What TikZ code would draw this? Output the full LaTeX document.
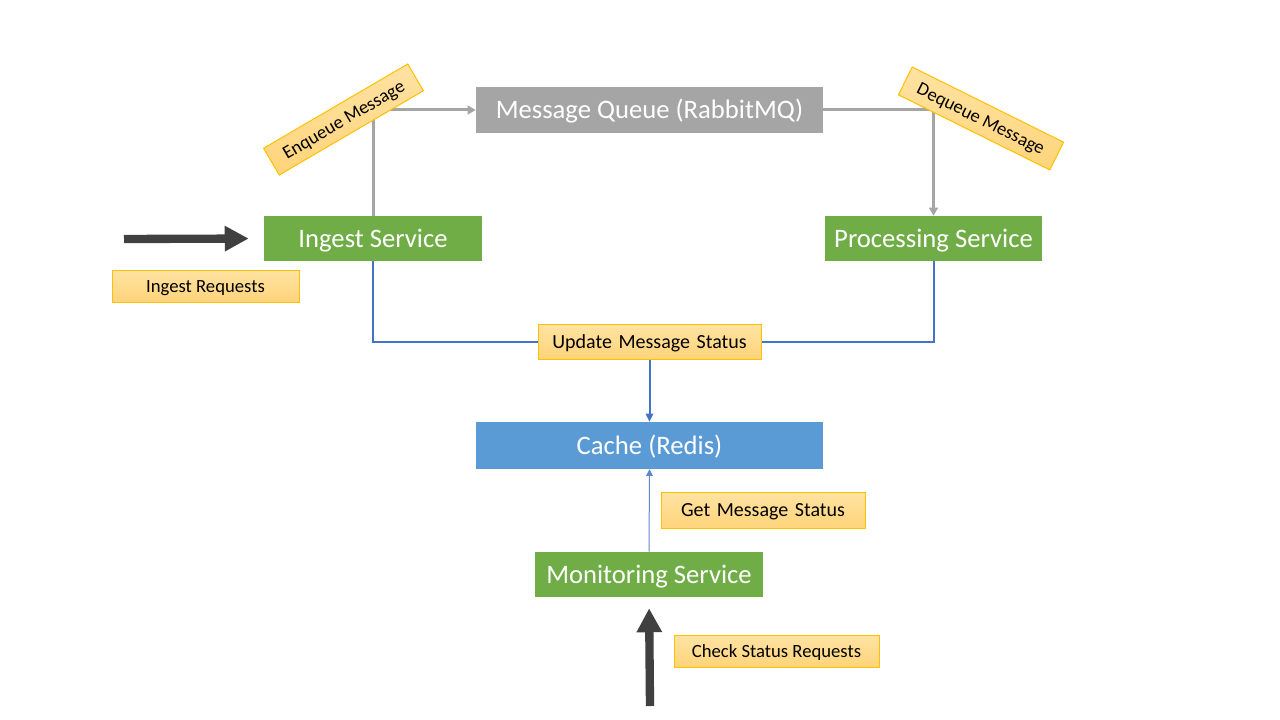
\documentclass[tikz,border=0pt]{standalone}
\usepackage{fontspec}
\setmainfont{Carlito}
\usetikzlibrary{arrows.meta}
\definecolor{qgray}{HTML}{A5A5A5}
\definecolor{sgreen}{HTML}{70AD47}
\definecolor{cblue}{HTML}{5B9BD5}
\definecolor{lblue}{HTML}{4472C4}
\definecolor{lbltop}{HTML}{FFE3A3}
\definecolor{lblbot}{HTML}{FFD47A}
\definecolor{lblline}{HTML}{FFC000}
\definecolor{darkarrow}{HTML}{404040}
\begin{document}
\begin{tikzpicture}[x=0.75pt,y=-0.75pt,
  svc/.style={draw=none, text=white, inner sep=0pt, minimum height=33.75pt,
    text height=15pt, text depth=2.1pt,
    font=\fontsize{20}{24}\selectfont},
  lbl/.style={draw=lblline, line width=0.75pt, top color=lbltop, bottom color=lblbot,
    text=black, inner sep=0pt, text height=10.5pt, text depth=1.2pt,
    font=\fontsize{14}{17}\selectfont},
  lblbig/.style={lbl, text height=11.25pt, text depth=1.2pt, font=\fontsize{15}{18}\selectfont},
  grayline/.style={draw=qgray, line width=2.25pt},
  grayarrow/.style={grayline, -{Triangle[length=6pt,width=6.5pt]}},
  blueline/.style={draw=lblue, line width=1.5pt},
  bluearrow/.style={blueline, -{Triangle[length=6pt,width=5.5pt]}},
  thinarrow/.style={draw=lblue!85, line width=0.75pt, -{Triangle[length=5pt,width=5pt]}},
  bigarrow/.style={draw=darkarrow, line width=6.25pt, -{Triangle[length=18pt,width=18pt]}}
]
\useasboundingbox[fill=white] (0,0) rectangle (1280,720);

% service boxes
\node[svc, fill=qgray, minimum width=260.25pt, minimum height=34.5pt] (mq) at (649.5,110) {Message Queue (RabbitMQ)};
\node[svc, fill=sgreen, minimum width=163.5pt] (ing) at (373,238.5) {Ingest Service};
\node[svc, fill=sgreen, minimum width=162.75pt] (proc) at (933.5,238.5) {Processing Service};
\node[svc, fill=cblue, minimum width=260.25pt, minimum height=35.25pt] (cache) at (649.5,445.5) {Cache (Redis)};
\node[svc, fill=sgreen, minimum width=171pt] (mon) at (649,574.5) {Monitoring Service};

% queue connectors (the rotated labels are drawn on top of them)
\draw[grayarrow] (ing.north) |- (mq.west);
\draw[grayarrow] (mq.east) -| (proc.north);

% labels
\node[lbl, minimum width=140.25pt, minimum height=24pt] (ireq) at (205.5,286) {Ingest Requests};
\node[lblbig, minimum width=167.25pt, minimum height=26.25pt] (upd) at (649.5,341.5) {Update\hspace{0.33em}Message\hspace{0.33em}Status};
\node[lblbig, minimum width=153pt, minimum height=27pt] (get) at (763,510) {Get\hspace{0.33em}Message\hspace{0.33em}Status};
\node[lbl, minimum width=153.75pt, minimum height=24pt] (chk) at (776.5,651) {Check Status Requests};
\node[lbl, minimum width=125.25pt, minimum height=23.25pt, rotate=30.3] (enq) at (343.5,119.5) {Enqueue Message};
\node[lbl, minimum width=126.75pt, minimum height=23.25pt, rotate=-26.4] (deq) at (981,118.5) {Dequeue Message};

% status update connectors
\draw[blueline] (ing.south) |- (upd.west);
\draw[blueline] (proc.south) |- (upd.east);
\draw[bluearrow] (upd.south) -- (cache.north);

% monitoring
\draw[thinarrow] (mon.north) -- (cache.south);

% external requests
\coordinate (ia) at (124,239);
\coordinate (ca) at (650,706);
\draw[bigarrow, shorten >=11.25pt] (ia) -- (ing.west);
\draw[bigarrow, shorten >=8.25pt] (ca) -- (mon.south);
\end{tikzpicture}
\end{document}
